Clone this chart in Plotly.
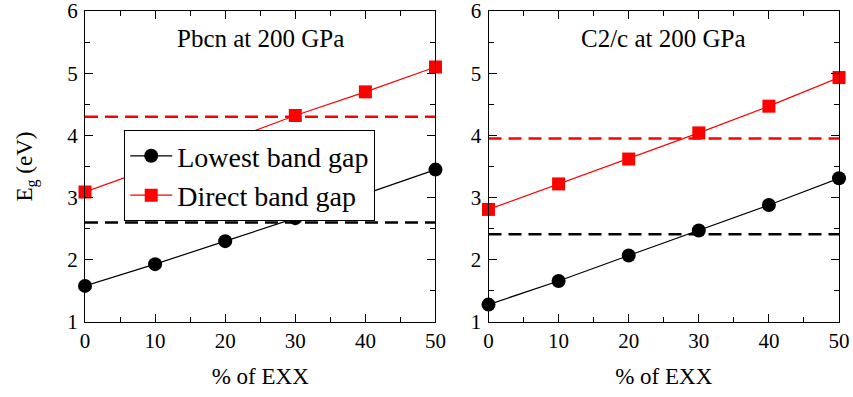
import plotly.graph_objects as go
from plotly.subplots import make_subplots

exx = [0, 10, 20, 30, 40, 50]

pbcn_lowest = [1.58, 1.93, 2.30, 2.67, 3.06, 3.45]
pbcn_direct = [3.09, 3.49, 3.90, 4.32, 4.70, 5.10]
pbcn_lowest_ref = 2.60
pbcn_direct_ref = 4.30

c2c_lowest = [1.28, 1.66, 2.07, 2.47, 2.88, 3.31]
c2c_direct = [2.81, 3.22, 3.62, 4.04, 4.47, 4.93]
c2c_lowest_ref = 2.41
c2c_direct_ref = 3.95

panel_titles = ["Pbcn at 200 GPa", "C2/c at 200 GPa"]
series_names = ["Lowest band gap", "Direct band gap"]
x_ticks = [0, 10, 20, 30, 40, 50]
y_ticks = [1, 2, 3, 4, 5, 6]

FONT = "Liberation Serif"

fig = make_subplots(rows=1, cols=2, horizontal_spacing=0.0703)

panels = [
    (pbcn_lowest, pbcn_direct, pbcn_lowest_ref, pbcn_direct_ref),
    (c2c_lowest, c2c_direct, c2c_lowest_ref, c2c_direct_ref),
]

for i, (low, direct, low_ref, dir_ref) in enumerate(panels):
    col = i + 1
    fig.add_trace(go.Scatter(x=[exx[0], exx[-1]], y=[low_ref, low_ref], mode="lines",
                             line=dict(color="black", width=2.5, dash="13px,7px"),
                             showlegend=False, hoverinfo="skip"), row=1, col=col)
    fig.add_trace(go.Scatter(x=[exx[0], exx[-1]], y=[dir_ref, dir_ref], mode="lines",
                             line=dict(color="red", width=2.5, dash="13px,7px"),
                             showlegend=False, hoverinfo="skip"), row=1, col=col)
    fig.add_trace(go.Scatter(x=exx, y=low, mode="lines+markers", name=series_names[0],
                             line=dict(color="black", width=1.2),
                             marker=dict(symbol="circle", size=14, color="black"),
                             cliponaxis=False, showlegend=(i == 0)), row=1, col=col)
    fig.add_trace(go.Scatter(x=exx, y=direct, mode="lines+markers", name=series_names[1],
                             line=dict(color="red", width=1.2),
                             marker=dict(symbol="square", size=13, color="red"),
                             cliponaxis=False, showlegend=(i == 0)), row=1, col=col)

axis_common = dict(showgrid=False, zeroline=False, showline=True, linecolor="black",
                   linewidth=1, mirror="allticks", ticks="inside", ticklen=8,
                   tickcolor="black", tickwidth=1, automargin=False,
                   ticklabeloverflow="allow",
                   tickfont=dict(family=FONT, size=21, color="black"))

for col in (1, 2):
    fig.update_xaxes(range=[0, 50], tickvals=x_ticks, ticktext=[str(v) for v in x_ticks],
                     minor=dict(ticks="inside", ticklen=5, dtick=5, tickcolor="black", showgrid=False),
                     title=dict(text="% of EXX", font=dict(family=FONT, size=23, color="black"),
                                standoff=15),
                     row=1, col=col, **axis_common)
    fig.update_yaxes(range=[1, 6], tickvals=y_ticks, ticktext=[str(v) for v in y_ticks],
                     minor=dict(ticks="inside", ticklen=5, dtick=0.5, tickcolor="black", showgrid=False),
                     ticklabelstandoff=2,
                     row=1, col=col, **axis_common)

fig.update_yaxes(title=dict(text="E<sub>g</sub> (eV)", font=dict(family=FONT, size=23, color="black"),
                            standoff=28), row=1, col=1)

for i, t in enumerate(panel_titles):
    xref = "x domain" if i == 0 else "x2 domain"
    yref = "y domain" if i == 0 else "y2 domain"
    fig.add_annotation(text=t, x=0.5, y=0.913, xref=xref, yref=yref, showarrow=False,
                       font=dict(family=FONT, size=25, color="black"), xanchor="center", yanchor="middle")

fig.update_layout(
    width=853, height=397,
    margin=dict(l=85, r=14, t=11, b=75),
    paper_bgcolor="white", plot_bgcolor="white",
    font=dict(family=FONT, color="black"),
    legend=dict(x=0.052, y=0.617, xanchor="left", yanchor="top",
                bgcolor="white", bordercolor="black", borderwidth=1,
                font=dict(family=FONT, size=28, color="black"),
                tracegroupgap=0, itemwidth=42),
)

fig.write_html("out.html", config={"displayModeBar": False},
               post_script="document.body.style.margin='0px';")
